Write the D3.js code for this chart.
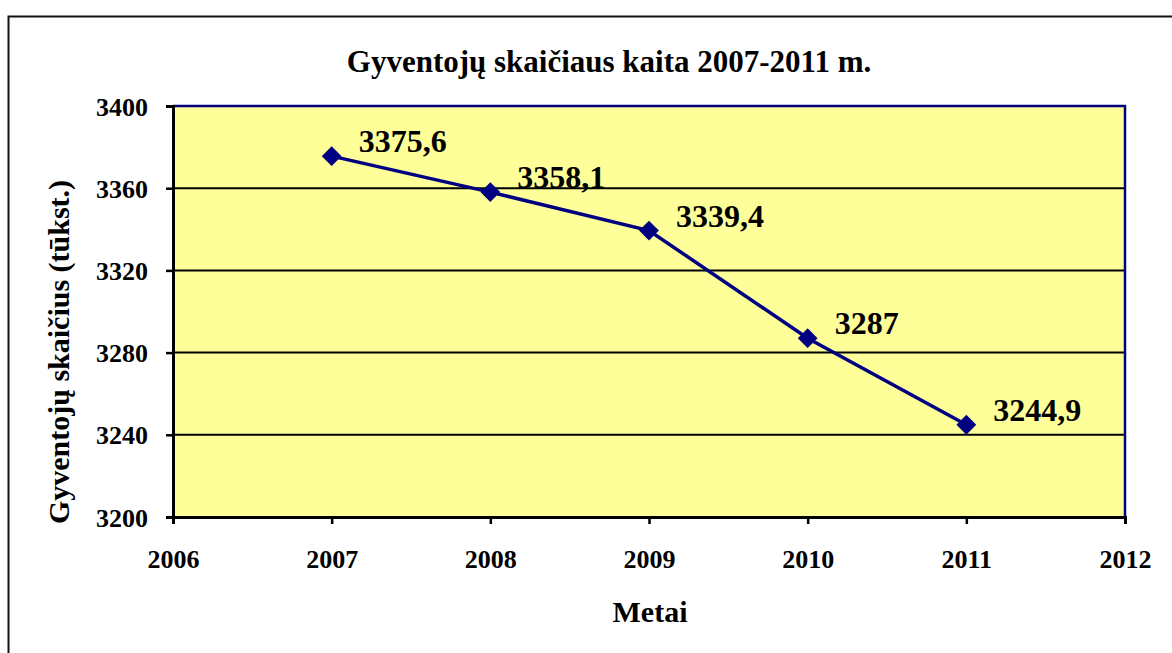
<!DOCTYPE html>
<html>
<head>
<meta charset="utf-8">
<script src="https://cdn.jsdelivr.net/npm/d3@7"></script>
<style>
  body { margin: 0; background: #fff; }
  svg text { font-family: "Liberation Serif", "Times New Roman", serif; font-weight: bold; fill: #000; }
</style>
</head>
<body>
<script>
// duomenys
var years = [2007, 2008, 2009, 2010, 2011];
var population = [3375.6, 3358.1, 3339.4, 3287, 3244.9];
var valueLabels = ["3375,6", "3358,1", "3339,4", "3287", "3244,9"];
var yTicks = [3200, 3240, 3280, 3320, 3360, 3400];
var xTicks = [2006, 2007, 2008, 2009, 2010, 2011, 2012];

var width = 1172, height = 653;
var plot = { left: 173, top: 106, right: 1125, bottom: 517 };

var svg = d3.select("body").append("svg")
    .attr("width", width)
    .attr("height", height);

// rėmelis aplink visą diagramą (išeina už krašto)
svg.append("rect")
    .attr("x", 8.5).attr("y", 16.5)
    .attr("width", 1200).attr("height", 700)
    .attr("fill", "none")
    .attr("stroke", "#111")
    .attr("stroke-width", 2);

var x = d3.scaleLinear()
    .domain([2006, 2012])
    .range([plot.left, plot.right]);

var y = d3.scaleLinear()
    .domain([3200, 3400])
    .range([plot.bottom, plot.top]);

// geltonas fonas
svg.append("rect")
    .attr("x", plot.left).attr("y", plot.top)
    .attr("width", plot.right - plot.left)
    .attr("height", plot.bottom - plot.top)
    .attr("fill", "#FFFF99");

// tinklelio linijos
svg.append("g")
    .selectAll("line")
    .data(yTicks.filter(d => d > 3200 && d < 3400))
    .enter().append("line")
    .attr("x1", plot.left).attr("x2", plot.right)
    .attr("y1", d => y(d)).attr("y2", d => y(d))
    .attr("stroke", "#000")
    .attr("stroke-width", 2);

// viršutinis ir dešinis kraštas - tamsiai mėlynas
svg.append("path")
    .attr("d", "M" + plot.left + "," + plot.top + "H" + plot.right + "V" + plot.bottom)
    .attr("fill", "none")
    .attr("stroke", "#000080")
    .attr("stroke-width", 2.5);

var yAxis = d3.axisLeft(y)
    .tickValues(yTicks)
    .tickSize(7)
    .tickPadding(18)
    .tickFormat(d => d);

var gy = svg.append("g")
    .attr("transform", "translate(" + plot.left + ",0)")
    .call(yAxis);

var xAxis = d3.axisBottom(x)
    .tickValues(xTicks)
    .tickSize(7)
    .tickPadding(26)
    .tickFormat(d => d);

var gx = svg.append("g")
    .attr("transform", "translate(0," + plot.bottom + ")")
    .call(xAxis);

[gx, gy].forEach(function(g)
{
    g.select(".domain").attr("stroke", "#000").attr("stroke-width", 3);
    g.selectAll(".tick line").attr("stroke", "#000").attr("stroke-width", 2.5);
    g.selectAll(".tick text")
        .style("font-size", "26px")
        .attr("fill", "#000");
});
gy.selectAll(".tick text").attr("dy", "0.35em");

// linija
var line = d3.line()
    .x((d, i) => x(years[i]))
    .y(d => y(d));

svg.append("path")
    .datum(population)
    .attr("d", line)
    .attr("fill", "none")
    .attr("stroke", "#000080")
    .attr("stroke-width", 3.5);

// rombo žymekliai
svg.append("g")
    .selectAll("path")
    .data(population)
    .enter().append("path")
    .attr("d", d3.symbol().type(d3.symbolDiamond2).size(250))
    .attr("transform", (d, i) => "translate(" + x(years[i]) + "," + y(d) + ")")
    .attr("fill", "#000080");

// reikšmių etiketės
svg.append("g")
    .selectAll("text")
    .data(population)
    .enter().append("text")
    .attr("x", (d, i) => x(years[i]) + 27)
    .attr("y", (d, i) => y(d) - 4)
    .style("font-size", "32px")
    .text((d, i) => valueLabels[i]);

// pavadinimas
svg.append("text")
    .attr("x", 609).attr("y", 72)
    .attr("text-anchor", "middle")
    .style("font-size", "31px")
    .text("Gyventojų skaičiaus kaita 2007-2011 m.");

// ašių pavadinimai
svg.append("text")
    .attr("x", 650).attr("y", 622)
    .attr("text-anchor", "middle")
    .style("font-size", "30px")
    .text("Metai");

svg.append("text")
    .attr("transform", "translate(69,352) rotate(-90)")
    .attr("text-anchor", "middle")
    .style("font-size", "30px")
    .text("Gyventojų skaičius (tūkst.)");
</script>
</body>
</html>
